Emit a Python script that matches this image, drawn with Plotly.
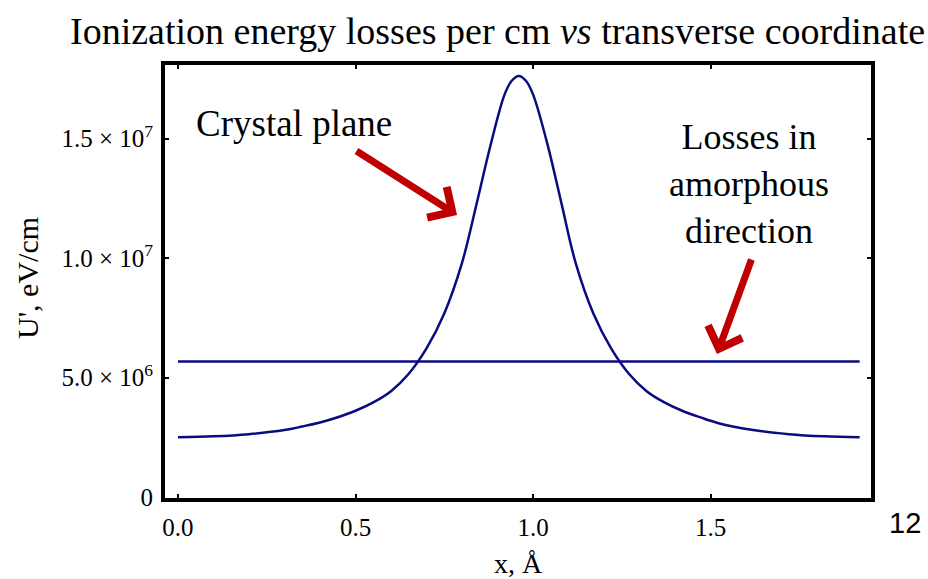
import plotly.graph_objects as go

# ---- data ----
x_curve = [0.00, 0.10, 0.20, 0.30, 0.35, 0.40, 0.45, 0.50, 0.55, 0.60, 0.65, 0.70,
           0.75, 0.80, 0.84, 0.88, 0.92, 0.94, 0.96, 0.98, 1.00, 1.04, 1.08, 1.12,
           1.17, 1.22, 1.27, 1.32, 1.37, 1.42, 1.47, 1.52, 1.62, 1.72, 1.82, 1.92]
u_curve_e6 = [2.50, 2.54, 2.63, 2.80, 2.95, 3.12, 3.34, 3.61, 3.96, 4.43, 5.16, 6.22,
              7.68, 9.80, 12.2, 14.7, 16.85, 17.42, 17.62, 17.42, 16.85, 14.8, 12.3, 9.80,
              7.68, 6.22, 5.16, 4.43, 3.96, 3.61, 3.34, 3.10, 2.80, 2.63, 2.54, 2.50]
x_amorph = [0.0, 1.92]
u_amorph_e6 = [5.67, 5.67]

x_ticks = [0.0, 0.5, 1.0, 1.5]
x_tick_labels = ["0.0", "0.5", "1.0", "1.5"]
y_ticks = [0, 5e6, 1e7, 1.5e7]
y_tick_labels = ["0", "5.0 \u00d7 10<sup>6</sup>", "1.0 \u00d7 10<sup>7</sup>",
                 "1.5 \u00d7 10<sup>7</sup>"]

title_text = "Ionization energy losses per cm <i>vs</i> transverse coordinate"
x_label = "x, \u00c5"
y_label = "U', eV/cm"
label_crystal = "Crystal plane"
label_amorph = "Losses in<br>amorphous<br>direction"
slide_no = "12"

# ---- layout geometry (pixels) ----
W, H = 928, 579
L, R, T, B = 165, 871, 65, 498
SERIF = "Liberation Serif, Times New Roman, serif"
NAVY = "#0b0b80"
RED = "#c00000"


def px(xp):
    return (xp - L) / (R - L)


def py(yp):
    return (B - yp) / (B - T)


fig = go.Figure()
fig.add_trace(go.Scatter(x=x_curve, y=[v * 1e6 for v in u_curve_e6], mode="lines",
                         line=dict(color=NAVY, width=2.5, shape="spline", smoothing=1.0),
                         showlegend=False, hoverinfo="skip"))
fig.add_trace(go.Scatter(x=x_amorph, y=[v * 1e6 for v in u_amorph_e6], mode="lines",
                         line=dict(color=NAVY, width=2.5), showlegend=False, hoverinfo="skip"))

axis_common = dict(showgrid=False, zeroline=False, showline=True, linecolor="black",
                   linewidth=4, mirror="allticks", ticks="inside", ticklen=4, tickwidth=2,
                   tickcolor="black", tickfont=dict(family=SERIF, size=25, color="black"))

fig.update_layout(
    width=W, height=H,
    margin=dict(l=L, r=W - R, t=T, b=H - B),
    paper_bgcolor="white", plot_bgcolor="white",
    xaxis=dict(range=[-0.0366, 1.952], tickvals=x_ticks, ticktext=x_tick_labels,
               ticklabelstandoff=4, **axis_common),
    yaxis=dict(range=[-0.042e6, 1.808e7], tickvals=y_ticks, ticktext=y_tick_labels,
               ticklabelstandoff=3, **axis_common),
    showlegend=False,
)

ann = [
    dict(text=title_text, x=px(497), y=py(31), xanchor="center", yanchor="middle",
         font=dict(family=SERIF, size=38, color="black")),
    dict(text=x_label, x=px(518), y=py(563), xanchor="center", yanchor="middle",
         font=dict(family=SERIF, size=28, color="black")),
    dict(text=y_label, x=px(27), y=py(278), xanchor="center", yanchor="middle", textangle=-90,
         font=dict(family=SERIF, size=30, color="black")),
    dict(text=label_crystal, x=px(294), y=py(124), xanchor="center", yanchor="middle",
         font=dict(family=SERIF, size=37, color="black")),
    dict(text=label_amorph, x=px(749), y=py(184), xanchor="center", yanchor="middle",
         align="center", font=dict(family=SERIF, size=36, color="black")),
    dict(text=slide_no, x=px(905), y=py(523), xanchor="center", yanchor="middle",
         font=dict(family="Liberation Sans, Arial, sans-serif", size=29, color="black")),
    # arrows
    dict(text="", x=px(457), y=py(215), ax=355 - 457, ay=150 - 215, showarrow=True,
         arrowhead=4, arrowsize=1, arrowwidth=7, arrowcolor=RED, standoff=0),
    dict(text="", x=px(717), y=py(354), ax=752 - 717, ay=258 - 354, showarrow=True,
         arrowhead=4, arrowsize=1, arrowwidth=7, arrowcolor=RED, standoff=0),
]
for a in ann:
    a.setdefault("xref", "paper")
    a.setdefault("yref", "paper")
    a.setdefault("showarrow", False)
fig.update_layout(annotations=ann)

fig.write_html("out.html")
